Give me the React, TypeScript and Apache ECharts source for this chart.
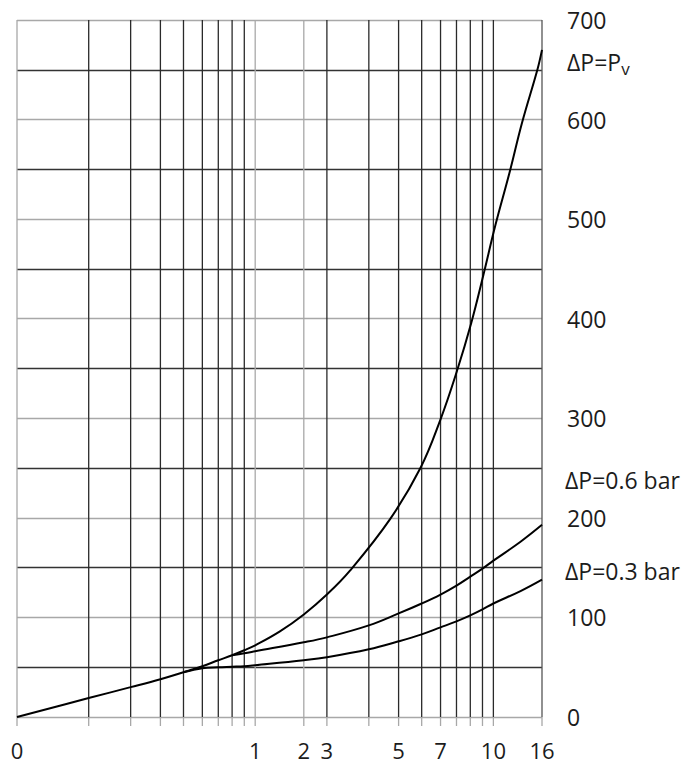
import React, { useEffect, useRef } from "react";
import * as echarts from "echarts";

// Vertical grid line positions (log x-axis values)
const gridX = [0.1, 0.2, 0.3, 0.4, 0.5, 0.6, 0.7, 0.8, 0.9, 1, 1.6, 2, 3, 4, 5, 6, 7, 8, 9, 10, 16];
const lightGridX = [0.1, 1, 1.6];
// X tick labels (value on axis -> text shown)
const xLabelPos = [0.1, 1, 1.6, 2, 4, 6, 10, 16];
const xLabelText = ["0", "1", "2", "3", "5", "7", "10", "16"];

// Curve ΔP = Pv
const pvX = [0.1, 0.2, 0.3, 0.4, 0.5, 0.6, 0.7, 0.8, 0.9, 1, 1.27, 1.6, 2, 2.5, 3.69, 4.94, 6, 7, 8.08, 9.08, 10.2, 11.7, 13.2, 15.3, 16];
const pvY = [0, 19, 30, 38, 45, 51, 57, 62, 67, 72, 86, 103, 123, 147, 199, 250, 299, 346, 396, 444, 494, 547, 597, 650, 670];
// Curve ΔP = 0.6 bar
const p06X = [0.8, 0.9, 1, 1.6, 2, 3, 4, 5, 6, 7, 8, 9, 10, 13, 16];
const p06Y = [62, 64, 66, 75, 80, 92, 104, 114, 123, 132, 141, 149, 157, 176, 193];
// Curve ΔP = 0.3 bar
const p03X = [0.5, 0.6, 0.7, 0.8, 0.9, 1, 1.6, 2, 3, 4, 5, 6, 7, 8, 9, 10, 13, 16];
const p03Y = [45, 49, 50, 50.5, 51, 52, 57, 60, 68, 76, 83, 90, 96, 102, 108, 114, 126.5, 138];

const FONT = "'Open Sans', 'DejaVu Sans', sans-serif";
const TEXT = "#1c1c1c";

const zip = (xs: number[], ys: number[]) => xs.map((x, i) => [x, ys[i]]);

export default function App() {
  const ref = useRef<HTMLDivElement>(null);
  useEffect(() => {
    if (!ref.current) return;
    const chart = echarts.init(ref.current, null, { renderer: "svg" });
    const curve = (name: string, xs: number[], ys: number[]) => ({
      name,
      type: "line",
      data: zip(xs, ys),
      smooth: 0.4,
      showSymbol: false,
      symbol: "none",
      z: 5,
      lineStyle: { color: "#000", width: 2 },
    });
    chart.setOption({
      animation: false,
      backgroundColor: "#fff",
      grid: { left: 17, right: 146, top: 20, bottom: 48 },
      xAxis: {
        type: "log",
        logBase: 10,
        min: 0.1,
        max: 16,
        axisLine: { show: false },
        axisTick: { show: false },
        axisLabel: { show: false },
        splitLine: { show: false },
        minorSplitLine: { show: false },
      },
      yAxis: {
        type: "value",
        position: "right",
        min: 0,
        max: 700,
        interval: 50,
        axisLine: { show: false },
        axisTick: { show: false },
        axisLabel: {
          margin: 25,
          color: TEXT,
          fontFamily: FONT,
          fontSize: 23,
          formatter: (v: number) => (v % 100 === 0 ? String(v) : ""),
        },
        splitLine: {
          show: true,
          lineStyle: { color: ["#a8a8a8", "#333333"], width: 1.3 },
        },
      },
      series: [
        {
          type: "custom",
          name: "vgrid",
          clip: false,
          z: 2,
          data: gridX.map((v) => [v, 0]),
          renderItem: (params: any, api: any) => {
            const v = api.value(0);
            const top = api.coord([v, 700]);
            const bot = api.coord([v, 0]);
            const light = lightGridX.indexOf(v) >= 0;
            const isEnd = v === 16;
            return {
              type: "group",
              children: [
                {
                  type: "line",
                  shape: { x1: top[0], y1: top[1], x2: bot[0], y2: bot[1] },
                  style: { stroke: light ? "#a8a8a8" : isEnd ? "#555" : "#2a2a2a", lineWidth: 1.3 },
                },
                {
                  type: "line",
                  shape: { x1: bot[0], y1: bot[1], x2: bot[0], y2: bot[1] + 9 },
                  style: { stroke: "#a8a8a8", lineWidth: 1.3 },
                },
              ],
            };
          },
        },
        {
          type: "custom",
          name: "xlabels",
          clip: false,
          z: 2,
          data: xLabelPos.map((v) => [v, 0]),
          renderItem: (params: any, api: any) => {
            const p = api.coord([api.value(0), 0]);
            return {
              type: "text",
              x: p[0],
              y: p[1] + 33,
              style: {
                text: xLabelText[params.dataIndex],
                fill: TEXT,
                fontFamily: FONT,
                fontSize: 22,
                align: "center",
                verticalAlign: "middle",
              },
            };
          },
        },
        curve("ΔP=Pv", pvX, pvY),
        curve("ΔP=0.6 bar", p06X, p06Y),
        curve("ΔP=0.3 bar", p03X, p03Y),
      ],
      graphic: [
        {
          type: "text",
          x: 567,
          y: 62,
          style: {
            text: "{a|ΔP=P}{b|v}",
            verticalAlign: "middle",
            align: "left",
            rich: {
              a: { fontSize: 23, lineHeight: 30, fontFamily: FONT, fill: TEXT, color: TEXT },
              b: { fontSize: 17, lineHeight: 17, verticalAlign: "bottom", fontFamily: FONT, fill: TEXT, color: TEXT },
            },
          },
        },
        {
          type: "text",
          x: 565,
          y: 480,
          style: { text: "ΔP=0.6 bar", fill: TEXT, fontFamily: FONT, fontSize: 23, verticalAlign: "middle", align: "left" },
        },
        {
          type: "text",
          x: 565,
          y: 571,
          style: { text: "ΔP=0.3 bar", fill: TEXT, fontFamily: FONT, fontSize: 23, verticalAlign: "middle", align: "left" },
        },
      ],
    });
    return () => chart.dispose();
  }, []);
  return (
    <div
      ref={ref}
      style={{ position: "fixed", left: 0, top: 0, width: 688, height: 765, background: "#fff" }}
    />
  );
}
